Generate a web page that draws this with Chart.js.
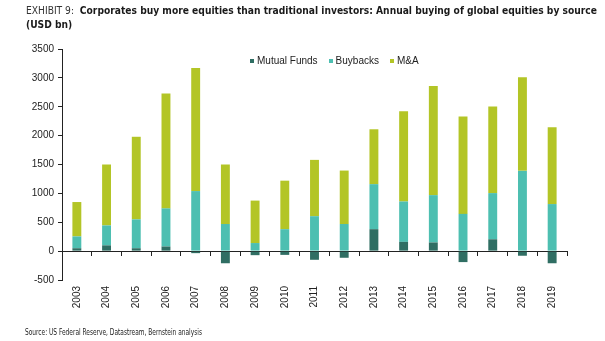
<!DOCTYPE html>
<html>
<head>
<meta charset="utf-8">
<script src="https://cdn.jsdelivr.net/npm/chart.js@4.4.1/dist/chart.umd.min.js"></script>
<style>
  html, body { margin: 0; padding: 0; background: #fff; }
  #wrap { position: relative; width: 605px; height: 341px; overflow: hidden; }
  #chart { position: absolute; left: 0; top: 0; }
  .title {
    position: absolute; left: 26px; top: 3px; transform-origin: 0 0;
    font-family: "DejaVu Sans Condensed", "DejaVu Sans", sans-serif;
    font-size: 10.5px; line-height: 14px; color: #1a1a1a; white-space: nowrap;
  }
  .title .lead { font-weight: normal; color: #333; }
  .title b { font-weight: bold; }
  #legend {
    position: absolute; top: 54px; left: 250px; display: flex; gap: 11px;
    font-family: Arial, "Liberation Sans", sans-serif; font-size: 10px; color: #222;
  }
  #legend .item { display: flex; align-items: center; gap: 3px; line-height: 13px; }
  #legend .box { width: 4px; height: 4px; display: inline-block; }
  .source {
    position: absolute; left: 25px; top: 326px; transform-origin: 0 0;
    font-family: "DejaVu Sans Condensed", "DejaVu Sans", sans-serif;
    font-size: 9.5px; line-height: 11px; color: #222; white-space: nowrap;
  }
</style>
</head>
<body>
<div id="wrap">
  <canvas id="chart" width="605" height="341"></canvas>
  <div class="title" id="title"><span class="lead">EXHIBIT 9:</span>&nbsp; <b>Corporates buy more equities than traditional investors: Annual buying of global equities by source</b><br><b>(USD bn)</b></div>
  <div id="legend"></div>
  <div class="source" id="source">Source: US Federal Reserve, Datastream, Bernstein analysis</div>
</div>
<script>
// Annual buying of global equities by source, USD bn
const years = ['2003','2004','2005','2006','2007','2008','2009','2010','2011','2012','2013','2014','2015','2016','2017','2018','2019'];
const mutualFunds = [50, 100, 50, 80, -35, -210, -70, -65, -150, -115, 380, 160, 150, -190, 205, -80, -210];
const buybacks    = [205, 345, 500, 660, 1040, 470, 140, 380, 605, 470, 780, 700, 820, 645, 800, 1390, 815];
const mAndA       = [595, 1055, 1430, 1990, 2130, 1030, 735, 840, 975, 925, 950, 1560, 1890, 1685, 1500, 1620, 1330];
const yTicks = [-500, 0, 500, 1000, 1500, 2000, 2500, 3000, 3500];

const colors = { mf: '#2f6e63', bb: '#4dbfb1', ma: '#b3c526' };
const axisColor = '#222';
const tickFont = { family: 'Arial, "Liberation Sans", sans-serif', size: 10 };

const chart = new Chart(document.getElementById('chart'), {
  type: 'bar',
  data: {
    labels: years,
    datasets: [
      { label: 'Mutual Funds', data: mutualFunds, backgroundColor: colors.mf },
      { label: 'Buybacks', data: buybacks, backgroundColor: colors.bb },
      { label: 'M&A', data: mAndA, backgroundColor: colors.ma }
    ]
  },
  options: {
    responsive: false,
    devicePixelRatio: 1,
    animation: false,
    layout: { padding: { top: 49, right: 38, bottom: 0, left: 0 } },
    datasets: { bar: { barPercentage: 0.3, categoryPercentage: 1, borderWidth: 0 } },
    plugins: { legend: { display: false }, title: { display: false }, tooltip: { enabled: false } },
    scales: {
      // category axis drawn along the zero line, with boundary tick marks
      x: {
        type: 'category',
        position: { y: 0 },
        stacked: true,
        offset: true,
        border: { display: true, color: axisColor, width: 1 },
        grid: { display: true, offset: true, drawOnChartArea: false, drawTicks: true, tickLength: 4, color: axisColor },
        ticks: { display: false }
      },
      // year labels along the bottom edge
      x2: {
        type: 'category',
        position: 'bottom',
        labels: years,
        offset: true,
        border: { display: false },
        grid: { display: false, drawTicks: false },
        ticks: { minRotation: 90, maxRotation: 90, padding: 6, color: '#222', font: tickFont, autoSkip: false },
        afterFit: s => { s.height = 61; }
      },
      y: {
        stacked: true,
        min: -500,
        max: 3500,
        afterBuildTicks: s => { s.ticks = yTicks.map(v => ({ value: v })); },
        border: { display: true, color: axisColor, width: 1 },
        grid: { display: true, drawOnChartArea: false, drawTicks: true, tickLength: 4, color: axisColor },
        ticks: { color: '#222', font: tickFont, padding: 4, callback: v => String(v) },
        afterFit: s => { s.width = 62; }
      }
    }
  }
});

// legend built from the chart's datasets
const legend = document.getElementById('legend');
chart.data.datasets.forEach(ds => {
  const item = document.createElement('span');
  item.className = 'item';
  const box = document.createElement('span');
  box.className = 'box';
  box.style.background = ds.backgroundColor;
  const txt = document.createElement('span');
  txt.textContent = ds.label;
  item.appendChild(box);
  item.appendChild(txt);
  legend.appendChild(item);
});

// squeeze the heading and source lines horizontally to their set widths
function fitWidth(el, width) {
  const w = el.getBoundingClientRect().width;
  if (w > 0) el.style.transform = 'scaleX(' + (width / w) + ')';
}
fitWidth(document.getElementById('title'), 571);
fitWidth(document.getElementById('source'), 177);
</script>
</body>
</html>
